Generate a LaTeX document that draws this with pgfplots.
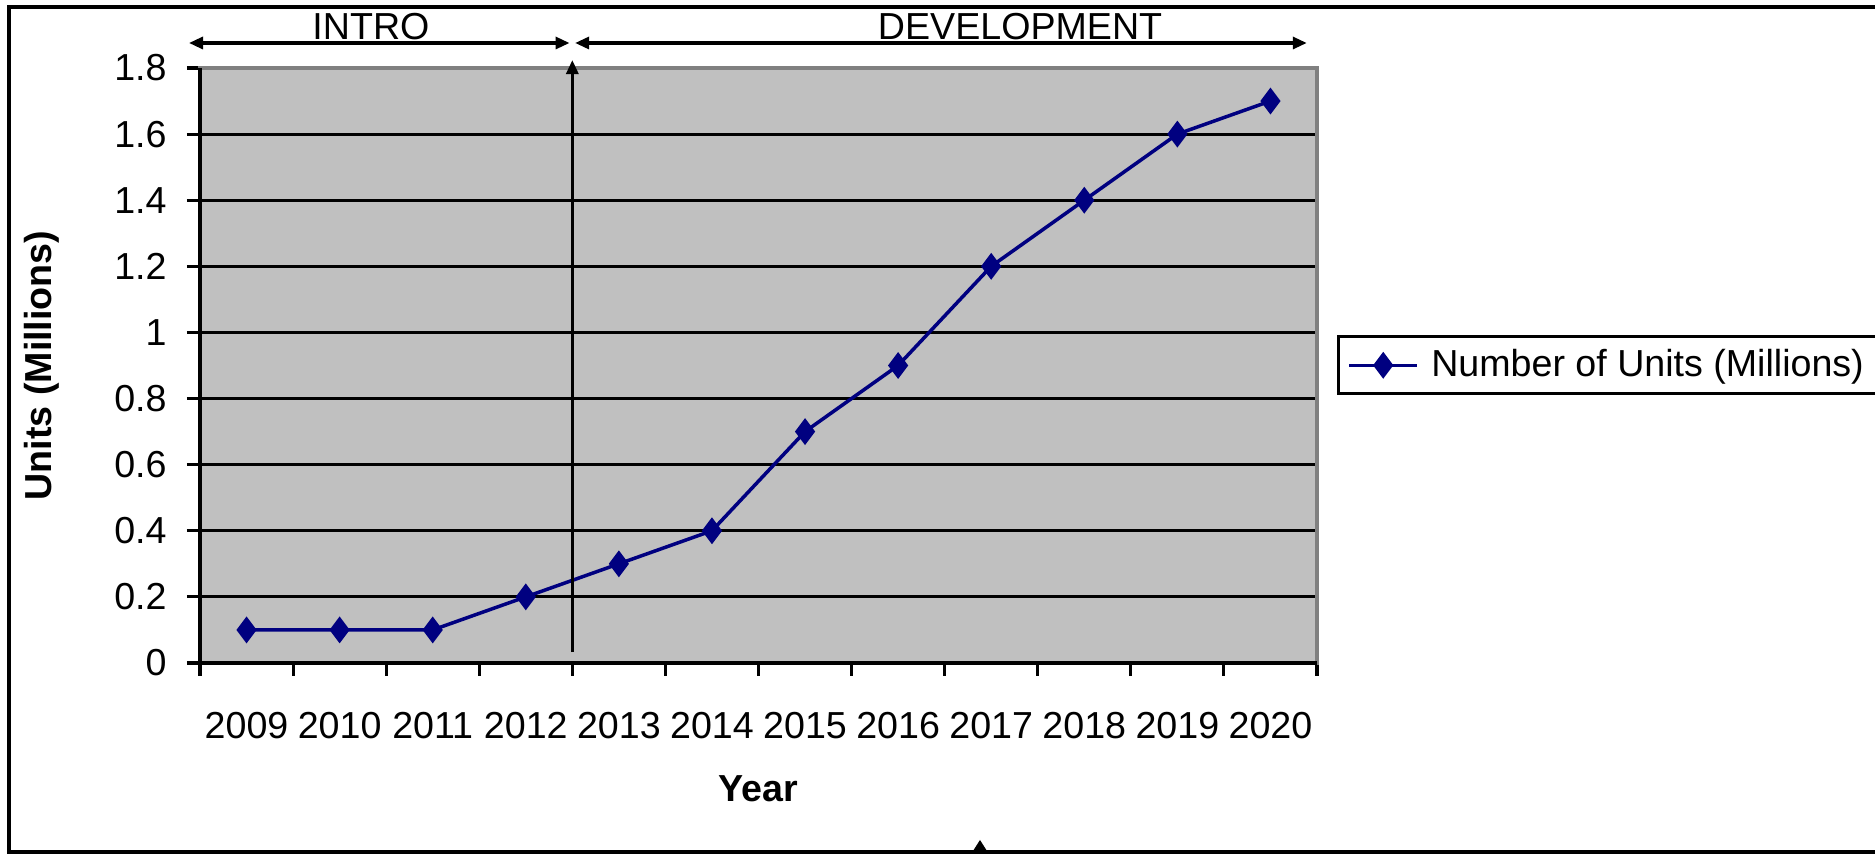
\documentclass[border=0pt]{standalone}
\usepackage{fontspec}
\setmainfont{Liberation Sans}
\usepackage{pgfplots}
\pgfplotsset{compat=1.18}
\usetikzlibrary{arrows.meta}
\definecolor{navyline}{RGB}{0,0,128}
\definecolor{plotgray}{RGB}{192,192,192}
\definecolor{bordergray}{RGB}{128,128,128}
\newcommand{\chartfont}{\fontsize{10.7}{12.8}\selectfont}
\begin{document}
\begin{tikzpicture}[x=1cm,y=1cm]
\useasboundingbox (0,0) rectangle (18.75,8.55);
% outer chart frame (right side is cut off in the original)
\draw[line width=1.1pt] (18.75,8.48) -- (0.09,8.48) -- (0.09,0.03) -- (18.75,0.03);
\fill (9.73,0.04) -- (9.87,0.04) -- (9.80,0.15) -- cycle;
\begin{axis}[
    at={(2.00cm,1.92cm)}, anchor=south west,
    scale only axis,
    width=11.17cm, height=5.95cm,
    xmin=-0.5, xmax=11.5,
    ymin=0, ymax=1.8,
    clip=false,
    font=\chartfont,
    xtick={-0.5,0.5,...,11.5},
    x tick label as interval,
    xticklabels={2009,2010,2011,2012,2013,2014,2015,2016,2017,2018,2019,2020},
    ytick={0,0.2,0.4,0.6,0.8,1,1.2,1.4,1.6,1.8},
    xtick pos=bottom, ytick pos=left,
    /pgf/number format/assume math mode=true,
    yticklabel style={/pgf/number format/fixed, /pgf/number format/precision=1, xshift=-0.08cm},
    tick align=outside,
    major tick length=0.13cm,
    tick style={black, line width=0.9pt},
    ymajorgrids=true,
    grid style={black, line width=0.8pt},
    axis background/.style={fill=plotgray},
    axis line style={bordergray, line width=1.1pt},
    xticklabel style={yshift=-0.24cm},
    xlabel={\textbf{Year}},
    xlabel style={at={(axis description cs:0.5,-0.2118)}, anchor=center},
    ylabel={\textbf{Units (Millions)}},
    ylabel style={at={(axis description cs:-0.1414,0.5)}, anchor=center, rotate=0},
    legend style={at={(axis description cs:1.018,0.551)}, anchor=north west,
        draw=black, line width=0.9pt, fill=white, font=\chartfont,
        inner xsep=2.5pt, inner ysep=1.5pt, legend cell align=left},
    legend image code/.code={
        \draw[#1, mark repeat=2, mark phase=2] plot coordinates {(0cm,0cm) (0.34cm,0cm) (0.68cm,0cm)};},
]
\addplot[navyline, line width=1pt, mark=diamond*, mark size=3pt,
    mark options={fill=navyline, draw=navyline}]
coordinates {(0,0.1) (1,0.1) (2,0.1) (3,0.2) (4,0.3) (5,0.4) (6,0.7) (7,0.9) (8,1.2) (9,1.4) (10,1.6) (11,1.7)};
\addlegendentry{\hspace{1.5pt}Number of Units (Millions)}
% black left and bottom axis lines
\draw[black, line width=1.1pt] (axis description cs:0,1) -- (axis description cs:0,0) -- (axis description cs:1,0);
% phase boundary and phase arrows
\draw[black, line width=0.9pt, -{Triangle[length=0.14cm,width=0.12cm]}] (axis cs:3.5,0.033) -- (axis cs:3.5,1.824);
\draw[black, line width=0.9pt, {Triangle[length=0.14cm,width=0.12cm]}-{Triangle[length=0.14cm,width=0.12cm]}] (axis cs:-0.618,1.8756) -- (axis cs:3.47,1.8756);
\draw[black, line width=0.9pt, {Triangle[length=0.14cm,width=0.12cm]}-{Triangle[length=0.14cm,width=0.12cm]}] (axis cs:3.53,1.8756) -- (axis cs:11.39,1.8756);
\node[anchor=base, inner sep=0pt, font=\chartfont] at (axis cs:1.337,1.886) {INTRO};
\node[anchor=base, inner sep=0pt, font=\chartfont] at (axis cs:8.31,1.886) {DEVELOPMENT};
\end{axis}
\end{tikzpicture}
\end{document}
